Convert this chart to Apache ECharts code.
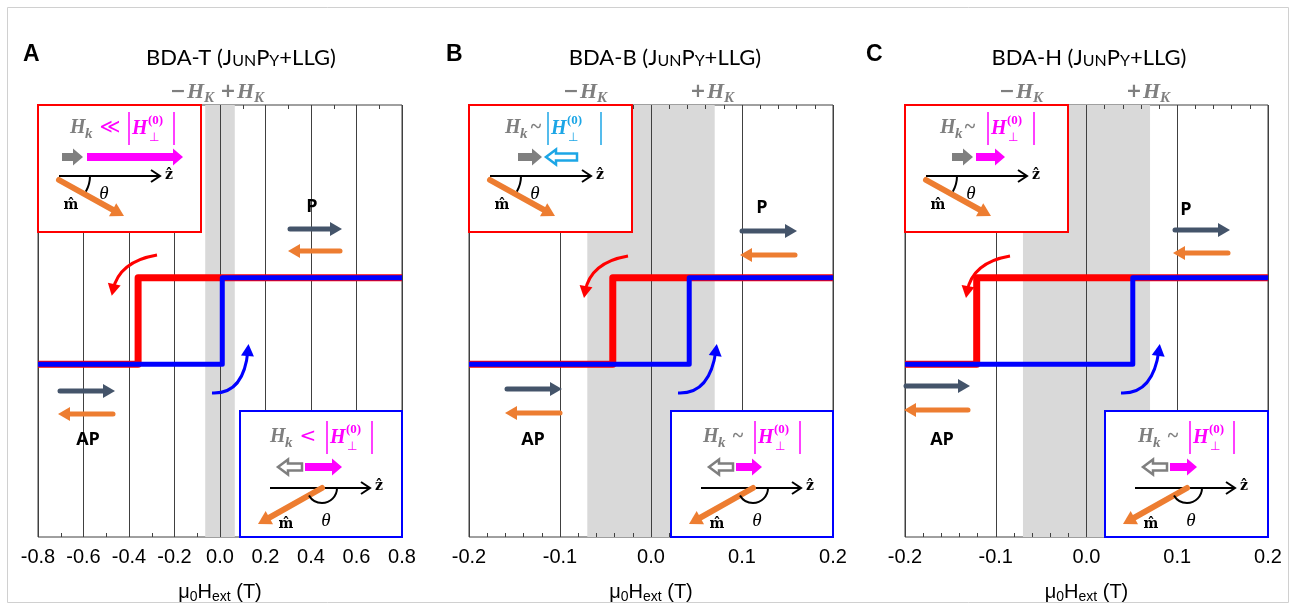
<!DOCTYPE html>
<html><head><meta charset="utf-8">
<script src="https://cdn.jsdelivr.net/npm/echarts@6/dist/echarts.min.js"></script>
<style>html,body{margin:0;padding:0;background:#fff}#c{width:1296px;height:610px}</style>
</head><body><div id="c"></div>
<script>
// ---------- data ----------
const panelLetters = ['A', 'B', 'C'];
const panelTitles = ['BDA-T', 'BDA-B', 'BDA-H'];
const xMins = [-0.8, -0.2, -0.2];
const xMaxs = [0.8, 0.2, 0.2];
const xIntervals = [0.2, 0.1, 0.1];
const minorSplits = [2, 5, 5];
const bandHK = [0.065, 0.07, 0.07];           // ±H_K shaded band
const redA = [[-0.8, 0.4], [-0.36, 0.4], [-0.36, 0.6], [0.8, 0.6]];
const blueA = [[-0.8, 0.4], [0.01, 0.4], [0.01, 0.6], [0.8, 0.6]];
const redB = [[-0.2, 0.4], [-0.042, 0.4], [-0.042, 0.6], [0.2, 0.6]];
const blueB = [[-0.2, 0.4], [0.042, 0.4], [0.042, 0.6], [0.2, 0.6]];
const redC = [[-0.2, 0.4], [-0.121, 0.4], [-0.121, 0.6], [0.2, 0.6]];
const blueC = [[-0.2, 0.4], [0.051, 0.4], [0.051, 0.6], [0.2, 0.6]];
const redSeries = [redA, redB, redC];
const blueSeries = [blueA, blueB, blueC];

// ---------- layout ----------
const gridLefts = [38, 469, 905];
const gridWidths = [364, 364, 363];
const gridTop = 105, gridHeight = 432;

const GRAY = '#7f7f7f', MAG = '#ff00ff', CYAN = '#1ca6e6', ORANGE = '#ed7d31', SLATE = '#44546a';
const SERIF = '"Liberation Serif"';

function txt(x, y, text, font, fill, align, va, extra) {
  align = align || 'left'; va = va || 'middle';
  const st = Object.assign({x, y, text, font, fill, align, verticalAlign: va, textAlign: align, textVerticalAlign: va}, extra || {});
  return {type: 'text', z: 52, silent: true, style: st};
}
function seg(x1, y1, x2, y2, stroke, lw, cap) {
  return {type: 'line', z: 51, silent: true, shape: {x1, y1, x2, y2}, style: {stroke, lineWidth: lw, lineCap: cap || 'butt'}};
}
function blockArrow(x1, x2, y, color, outline) {
  const d = x2 > x1 ? 1 : -1;
  const sh = outline ? 7 : 8, hh = outline ? 15 : 17, hl = 10;
  const hx = x2 - d * hl;
  const pts = [[x1, y - sh / 2], [hx, y - sh / 2], [hx, y - hh / 2], [x2, y], [hx, y + hh / 2], [hx, y + sh / 2], [x1, y + sh / 2]];
  return {type: 'polygon', z: 51, silent: true, shape: {points: pts},
    style: outline ? {fill: '#fff', stroke: color, lineWidth: 2.5, lineJoin: 'miter'} : {fill: color}};
}
function lineArrow(x1, y1, x2, y2, color, lw, hl, hw) {
  const dx = x2 - x1, dy = y2 - y1, L = Math.hypot(dx, dy), ux = dx / L, uy = dy / L, px = -uy, py = ux;
  const bx = x2 - ux * hl, by = y2 - uy * hl;
  return [
    seg(x1, y1, bx + ux * 2, by + uy * 2, color, lw, 'round'),
    {type: 'polygon', z: 51, silent: true, shape: {points: [[x2, y2], [bx + px * hw / 2, by + py * hw / 2], [bx - px * hw / 2, by - py * hw / 2]]}, style: {fill: color}}
  ];
}
function openArrow(x1, x2, y) {
  return [
    seg(x1, y, x2, y, '#000', 2),
    {type: 'polyline', z: 51, silent: true, shape: {points: [[x2 - 9, y - 6], [x2, y], [x2 - 9, y + 6]]}, style: {stroke: '#000', lineWidth: 2, fill: null}}
  ];
}
function curveArrow(p0, cp, p2, color) {
  let ux = p2[0] - cp[0], uy = p2[1] - cp[1];
  const L = Math.hypot(ux, uy); ux /= L; uy /= L;
  const px = -uy, py = ux, hw = 13;
  const tip = [p2[0] + ux * 6, p2[1] + uy * 6], b = [p2[0] - ux * 6, p2[1] - uy * 6];
  return [
    {type: 'bezierCurve', z: 51, silent: true, shape: {x1: p0[0], y1: p0[1], x2: p2[0], y2: p2[1], cpx1: cp[0], cpy1: cp[1]}, style: {stroke: color, lineWidth: 3, fill: null}},
    {type: 'polygon', z: 51, silent: true, shape: {points: [tip, [b[0] + px * hw / 2, b[1] + py * hw / 2], [b[0] - px * hw / 2, b[1] - py * hw / 2]]}, style: {fill: color}}
  ];
}
function mathRow(bx, y, hx, rel, relKind, c, barL, barR) {
  const relText = relKind === 'LL' ? '\u226A' : (relKind === 'LT' ? '<' : '~');
  const relFont = relKind === 'SIM' ? 'bold 20px ' + SERIF : '20px "DejaVu Sans"';
  return [
    txt(bx + hx, y, 'H', 'bold italic 20px ' + SERIF, GRAY),
    txt(bx + hx + 15, y + 6, 'k', 'bold italic 15px ' + SERIF, GRAY),
    txt(bx + rel, y, relText, relFont, relKind === 'SIM' ? GRAY : MAG, 'center'),
    seg(bx + barL, y - 16, bx + barL, y + 17, c, 1.5),
    txt(bx + barL + 3, y + 1, 'H', 'bold italic 20px ' + SERIF, c),
    txt(bx + barL + 19, y - 7, '(0)', 'bold 13px ' + SERIF, c),
    txt(bx + barL + 20, y + 10, '\u22A5', '12px "DejaVu Sans"', c),
    seg(bx + barR, y - 16, bx + barR, y + 17, c, 1.5)
  ];
}
function redInset(bx, cfg) {
  const by = 105;
  let els = [{type: 'rect', z: 50, silent: true, shape: {x: bx, y: by, width: 163, height: 127}, style: {fill: '#fff', stroke: '#ff0000', lineWidth: 2}}];
  els = els.concat(mathRow(bx, by + 23, cfg.hx, cfg.rel, cfg.relKind, cfg.color, cfg.barL, cfg.barR));
  els.push(blockArrow(bx + cfg.g1, bx + cfg.g2, by + 52, GRAY, false));
  if (cfg.outlineLeft) els.push(blockArrow(bx + cfg.m2, bx + cfg.m1, by + 52, cfg.color, true));
  else els.push(blockArrow(bx + cfg.m1, bx + cfg.m2, by + 52, cfg.color, false));
  els = els.concat(openArrow(bx + 21, bx + 122, by + 71));
  els.push(txt(bx + 131, by + 70, 'z\u0302', 'bold 14px "DejaVu Serif"', '#000', 'center'));
  els = els.concat(lineArrow(bx + 21, by + 75, bx + 86, by + 111, ORANGE, 6, 13, 15));
  els.push({type: 'arc', z: 51, silent: true, shape: {cx: bx + 21, cy: by + 71, r: 31, startAngle: 0, endAngle: 0.52, clockwise: true}, style: {stroke: '#000', lineWidth: 2, fill: null}});
  els.push(txt(bx + 66, by + 89, '\u03B8', 'italic 19px ' + SERIF, '#000', 'center'));
  els.push(txt(bx + 33, by + 100, 'm\u0302', 'bold 14px "DejaVu Serif"', '#000', 'center'));
  return els;
}
function blueInset(bx, bw, cfg) {
  const by = 411;
  let els = [{type: 'rect', z: 50, silent: true, shape: {x: bx, y: by, width: bw, height: 537 - by}, style: {fill: '#fff', stroke: '#0000ff', lineWidth: 2}}];
  els = els.concat(mathRow(bx, by + 26, cfg.hx, cfg.rel, cfg.relKind, MAG, cfg.barL, cfg.barR));
  els.push(blockArrow(bx + 62, bx + 38, by + 56, GRAY, true));
  els.push(blockArrow(bx + 65, bx + cfg.mEnd, by + 56, MAG, false));
  els = els.concat(openArrow(bx + 30, bx + 130, by + 77));
  els.push(txt(bx + 139, by + 75, 'z\u0302', 'bold 14px "DejaVu Serif"', '#000', 'center'));
  els = els.concat(lineArrow(bx + 82, by + 77, bx + 18, by + 113, ORANGE, 6, 13, 15));
  els.push({type: 'arc', z: 51, silent: true, shape: {cx: bx + 82, cy: by + 77, r: 15, startAngle: 0, endAngle: 2.62, clockwise: true}, style: {stroke: '#000', lineWidth: 2, fill: null}});
  els.push(txt(bx + 86, by + 110, '\u03B8', 'italic 19px ' + SERIF, '#000', 'center'));
  els.push(txt(bx + 46, by + 113, 'm\u0302', 'bold 14px "DejaVu Serif"', '#000', 'center'));
  return els;
}
function hk(x, y, sign) {
  return [
    txt(x + 8, y, sign, 'bold 19px "DejaVu Sans"', GRAY, 'center'),
    txt(x + 17, y, 'H', 'bold italic 22px ' + SERIF, GRAY),
    txt(x + 34, y + 6, 'K', 'bold italic 15px ' + SERIF, GRAY)
  ];
}
function pLabel(px, py, ax1, ax2, ay1, ay2) {
  return [txt(px, py, 'P', 'bold 18px "Open Sans"', '#000', 'center')]
    .concat(lineArrow(ax1, ay1, ax2, ay1, SLATE, 5, 12, 14))
    .concat(lineArrow(ax2 - 2, ay2, ax1 - 2, ay2, ORANGE, 5, 12, 14));
}
function apLabel(tx, ty, ax1, ax2, ay1, ay2) {
  return [txt(tx, ty, 'AP', 'bold 18px "Open Sans"', '#000', 'center')]
    .concat(lineArrow(ax1, ay1, ax2, ay1, SLATE, 5, 12, 14))
    .concat(lineArrow(ax2 - 2, ay2, ax1 - 2, ay2, ORANGE, 5, 12, 14));
}

// ---------- option ----------
const grids = [], xAxes = [], yAxes = [], series = [];
for (let i = 0; i < 3; i++) {
  grids.push({left: gridLefts[i], top: gridTop, width: gridWidths[i], height: gridHeight, show: true, borderColor: '#404040', borderWidth: 1, backgroundColor: 'transparent', containLabel: false});
  const tick = {show: true, inside: true, length: 5, lineStyle: {color: '#404040'}};
  const minor = {show: true, splitNumber: minorSplits[i], length: 4, lineStyle: {color: '#404040'}};
  xAxes.push({
    gridIndex: i, type: 'value', min: xMins[i], max: xMaxs[i], interval: xIntervals[i], position: 'bottom', z: 10,
    axisLine: {show: false}, axisTick: tick, minorTick: minor,
    splitLine: {show: true, lineStyle: {color: '#404040', width: 1}},
    axisLabel: {interval: 0, showMinLabel: true, showMaxLabel: true, fontSize: 20, fontFamily: 'Liberation Sans', color: '#000', margin: 10, formatter: v => v.toFixed(1)},
    name: '{a|\u03BC}{b|0}{a|H}{b|ext}{a| (T)}', nameLocation: 'middle', nameGap: 43,
    nameTextStyle: {rich: {
      a: {fontSize: 20, fontFamily: 'Liberation Sans', color: '#000', lineHeight: 24, verticalAlign: 'middle'},
      b: {fontSize: 14, fontFamily: 'Liberation Sans', color: '#000', lineHeight: 12, verticalAlign: 'bottom'}
    }}
  });
  xAxes.push({
    gridIndex: i, type: 'value', min: xMins[i], max: xMaxs[i], interval: xIntervals[i], position: 'top', z: 10,
    axisLine: {show: false}, axisTick: tick, minorTick: minor, splitLine: {show: false}, axisLabel: {show: false}
  });
  yAxes.push({gridIndex: i, type: 'value', min: 0, max: 1, show: false});
  series.push({
    type: 'line', xAxisIndex: 2 * i, yAxisIndex: i, data: [], z: 0, silent: true, symbol: 'none',
    markArea: {silent: true, z: 0, itemStyle: {color: '#d9d9d9'}, data: [[{xAxis: -bandHK[i]}, {xAxis: bandHK[i]}]]}
  });
  series.push({type: 'line', xAxisIndex: 2 * i, yAxisIndex: i, data: redSeries[i], z: 20, symbol: 'none', showSymbol: false,
    lineStyle: {color: '#ff0000', width: 7, join: 'round'}});
  series.push({type: 'line', xAxisIndex: 2 * i, yAxisIndex: i, data: blueSeries[i], z: 21, symbol: 'none', showSymbol: false,
    lineStyle: {color: '#0000ff', width: 5, join: 'round'}});
}

let G = [];
G.push({type: 'rect', z: 0, silent: true, shape: {x: 7.5, y: 7.5, width: 1281, height: 595}, style: {fill: null, stroke: '#d0d0d0', lineWidth: 1}});
const letterX = [23, 446, 866], titleX = [241, 665, 1089];
for (let i = 0; i < 3; i++) {
  G.push(txt(letterX[i], 55, panelLetters[i], 'bold 23px "Liberation Sans"', '#000'));
  G.push({type: 'text', z: 52, silent: true, style: {
    x: titleX[i], y: 56, text: '{n|' + panelTitles[i] + ' (J}{s|UN}{n|P}{s|Y}{n|+LLG)}',
    align: 'center', verticalAlign: 'middle', textAlign: 'center', textVerticalAlign: 'middle', fill: '#000',
    rich: {n: {fontSize: 22, fontFamily: 'Lato', fill: '#000', lineHeight: 26, verticalAlign: 'bottom'},
           s: {fontSize: 16, fontFamily: 'Lato', fill: '#000', lineHeight: 26, verticalAlign: 'bottom'}}
  }});
}
G = G.concat(hk(170, 92, '\u2212'), hk(220, 92, '+'), hk(563, 92, '\u2212'), hk(690, 92, '+'), hk(999, 92, '\u2212'), hk(1126, 92, '+'));

G = G.concat(redInset(38, {hx: 32, rel: 72, relKind: 'LL', color: MAG, barL: 91, barR: 136, g1: 24, g2: 45, m1: 49, m2: 145}));
G = G.concat(redInset(469, {hx: 36, rel: 67, relKind: 'SIM', color: CYAN, barL: 79, barR: 132, g1: 49, g2: 73, m1: 77, m2: 108, outlineLeft: true}));
G = G.concat(redInset(905, {hx: 35, rel: 65, relKind: 'SIM', color: MAG, barL: 83, barR: 129, g1: 47, g2: 68, m1: 71, m2: 100}));
G = G.concat(blueInset(240, 162, {hx: 30, rel: 68, relKind: 'LT', barL: 87, barR: 132, mEnd: 102}));
G = G.concat(blueInset(671, 162, {hx: 32, rel: 67, relKind: 'SIM', barL: 84, barR: 129, mEnd: 91}));
G = G.concat(blueInset(1105, 163, {hx: 33, rel: 68, relKind: 'SIM', barL: 85, barR: 129, mEnd: 92}));

G = G.concat(pLabel(312, 207, 290, 342, 229, 251), apLabel(88, 440, 60, 115, 391, 414));
G = G.concat(pLabel(762, 208, 742, 797, 231, 255), apLabel(533, 440, 507, 562, 389, 413));
G = G.concat(pLabel(1186, 210, 1175, 1230, 230, 253), apLabel(942, 440, 906, 970, 386, 410));

G = G.concat(curveArrow([157, 255], [119, 261.5], [113, 290], '#ff0000'), curveArrow([212, 393], [244, 394.5], [248, 350], '#0000ff'));
G = G.concat(curveArrow([628, 256], [590, 262.5], [585, 292], '#ff0000'), curveArrow([678, 393], [710, 394.5], [716, 350], '#0000ff'));
G = G.concat(curveArrow([1010, 256], [972, 262.5], [967, 292], '#ff0000'), curveArrow([1121, 393], [1153, 394.5], [1159, 350], '#0000ff'));

const chart = echarts.init(document.getElementById('c'), null, {renderer: 'canvas'});
chart.setOption({
  backgroundColor: '#fff', animation: false,
  grid: grids, xAxis: xAxes, yAxis: yAxes, series: series,
  graphic: {elements: G}
});
</script></body></html>
